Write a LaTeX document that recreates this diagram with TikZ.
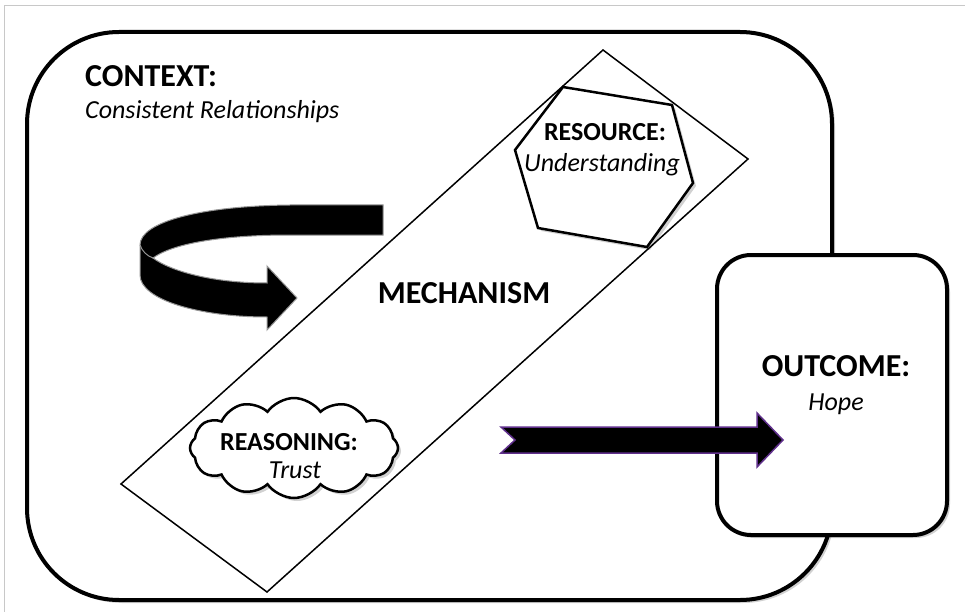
\documentclass[tikz,border=0pt]{standalone}
\usepackage{fontspec}
\setmainfont{Carlito}
\usetikzlibrary{shapes.symbols,shadows}
\definecolor{framegray}{RGB}{200,200,200}
\definecolor{arrowpurple}{RGB}{96,48,140}
\definecolor{ribbongray}{RGB}{150,150,150}
\tikzset{
  softshadow/.style={drop shadow={shadow xshift=3pt,shadow yshift=-3pt,fill=black,opacity=0.18}},
  heavybox/.style={draw=black,line width=4pt,fill=white},
  headbig/.style={font=\fontsize{32}{38}\selectfont\bfseries,inner sep=0pt},
  headsmall/.style={font=\fontsize{26}{31}\selectfont\bfseries,inner sep=0pt},
  subtext/.style={font=\fontsize{26}{31}\selectfont\itshape,inner sep=0pt},
}
\begin{document}
\begin{tikzpicture}[x=1pt,y=-1pt]
\useasboundingbox (0,0) rectangle (965,612);
\fill[white] (0,0) rectangle (965,612);
% outer page frame
\draw[framegray,line width=1pt] (4.5,612) -- (4.5,5.5) -- (965,5.5);

% context box
\node[heavybox,rounded corners=92pt,minimum width=805pt,minimum height=568pt,softshadow] (ctx) at (429.5,316) {};

% mechanism band
\draw[line width=1.5pt,line join=miter] (603,50) -- (748,159) -- (267,592) -- (121,484) -- cycle;

% curved ribbon arrow
\filldraw[fill=black,draw=ribbongray,line width=1pt,line join=miter]
  (383,205) -- (290,205) .. controls (200,206) and (140,222) .. (140,245)
  -- (140,275) .. controls (140,300) and (200,317) .. (267,317)
  -- (267,330) -- (297,298) -- (267,266) -- (267,283)
  .. controls (215,283) and (172,272) .. (153,258)
  .. controls (172,244) and (220,235) .. (290,235) -- (383,235) -- cycle;
\draw[ribbongray,line width=1pt] (140,245) .. controls (142,251) and (147,256) .. (153,258);

% resource hexagon
\draw[line width=2.5pt,fill=white,line join=miter,softshadow]
  (563,87) -- (672,105) -- (693,183) -- (647,247) -- (538,228) -- (515,150) -- cycle;

% reasoning cloud
\node[cloud,cloud puffs=12,cloud puff arc=110,cloud ignores aspect,minimum width=208pt,minimum height=100pt,
      draw,line width=2.5pt,fill=white,softshadow] (reas) at (294,448) {};

% outcome box
\node[heavybox,rounded corners=34pt,minimum width=230pt,minimum height=280pt,softshadow] (out) at (832,395) {};

% straight block arrow into the outcome
\filldraw[fill=black,draw=arrowpurple,line width=1.5pt,line join=miter]
  (501,427) -- (757,427) -- (757,413) -- (783,440) -- (757,467) -- (757,453) -- (501,453) -- (515,440) -- cycle;

% labels
\node[headbig,anchor=base west] (ctxhead) at (85,87) {CONTEXT:};
\node[subtext,anchor=base west] (ctxsub) at (85,119) {Consistent Relationships};
\node[headsmall,anchor=base] (reshead) at (605,141) {RESOURCE:};
\node[subtext,anchor=base] (ressub) at (602,172) {Understanding};
\node[headbig,anchor=base] (mech) at (464,303) {MECHANISM};
\node[headbig,anchor=base] (outhead) at (836,376) {OUTCOME:};
\node[subtext,anchor=base] (outsub) at (836,410) {Hope};
\node[headsmall,anchor=base] (reashead) at (289,450) {REASONING:};
\node[subtext,anchor=base] (reassub) at (295,478) {Trust};
\end{tikzpicture}
\end{document}
